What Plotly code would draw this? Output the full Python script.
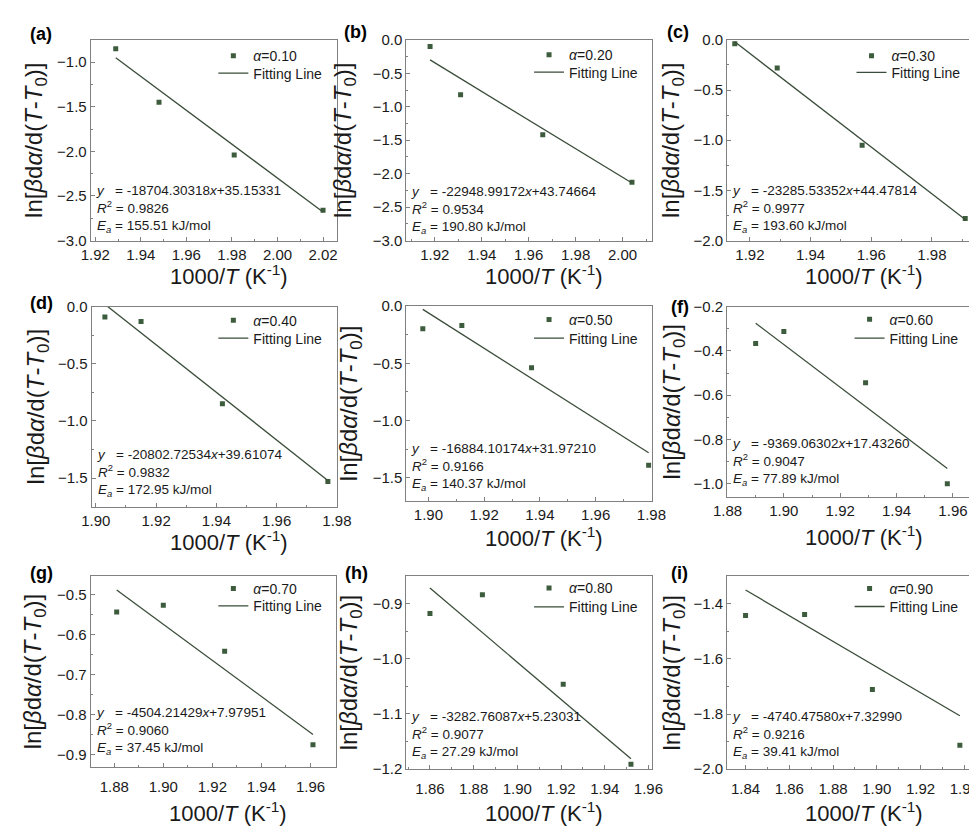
import plotly.graph_objects as go

W, H = 977, 826
FONT = "Liberation Sans, Arial, Helvetica, sans-serif"
MARKER_COLOR = "#3d5c3d"
LINE_COLOR = "#3a4d3a"
FRAME_COLOR = "#808080"
TEXT_COLOR = "#1a1a1a"

# ---------------- data ----------------
panel_tags = ["(a)", "(b)", "(c)", "(d)", "", "(f)", "(g)", "(h)", "(i)"]
alpha_levels = ["0.10", "0.20", "0.30", "0.40", "0.50", "0.60", "0.70", "0.80", "0.90"]

x_points = [
    [1.929, 1.948, 1.981, 2.020],
    [1.918, 1.931, 1.966, 2.004],
    [1.915, 1.929, 1.957, 1.991],
    [1.903, 1.915, 1.942, 1.977],
    [1.898, 1.912, 1.937, 1.979],
    [1.890, 1.900, 1.929, 1.958],
    [1.881, 1.900, 1.925, 1.961],
    [1.860, 1.884, 1.921, 1.952],
    [1.840, 1.867, 1.898, 1.938],
]
y_points = [
    [-0.85, -1.45, -2.04, -2.66],
    [-0.10, -0.82, -1.42, -2.13],
    [-0.04, -0.28, -1.05, -1.78],
    [-0.09, -0.13, -0.85, -1.53],
    [-0.20, -0.17, -0.54, -1.39],
    [-0.367, -0.312, -0.544, -1.00],
    [-0.543, -0.526, -0.641, -0.875],
    [-0.918, -0.884, -1.046, -1.191],
    [-1.442, -1.439, -1.711, -1.913],
]
# fitted line values at the first and last point
fit_y_ends = [
    [-0.95, -2.68],
    [-0.30, -2.14],
    [-0.02, -1.79],
    [0.02, -1.52],
    [-0.03, -1.28],
    [-0.275, -0.932],
    [-0.488, -0.849],
    [-0.872, -1.181],
    [-1.350, -1.806],
]
slopes = ["-18704.30318", "-22948.99172", "-23285.53352", "-20802.72534", "-16884.10174",
          "-9369.06302", "-4504.21429", "-3282.76087", "-4740.47580"]
intercepts = ["+35.15331", "+43.74664", "+44.47814", "+39.61074", "+31.97210",
              "+17.43260", "+7.97951", "+5.23031", "+7.32990"]
r_squared = ["0.9826", "0.9534", "0.9977", "0.9832", "0.9166", "0.9047", "0.9060", "0.9077", "0.9216"]
activation_energy = ["155.51", "190.80", "193.60", "172.95", "140.37", "77.89", "37.45", "27.29", "39.41"]

x_ranges = [
    [1.918, 2.026], [1.9079, 2.0127], [1.9125, 1.9929],
    [1.8986, 1.9801], [1.8921, 1.9801], [1.8799, 1.9664],
    [1.8704, 1.9704], [1.8492, 1.9615], [1.8316, 1.9431],
]
y_ranges = [
    [-3.0001, -0.75], [-3.0001, 0.0001], [-2.0001, 0.0001],
    [-1.75, 0.0001], [-1.70, 0.0001], [-1.06, -0.1999],
    [-0.931, -0.453], [-1.2001, -0.85], [-2.0001, -1.2999],
]
y_major = [0.5, 0.5, 0.5, 0.5, 0.5, 0.2, 0.1, 0.1, 0.2]
x_title = "1000/<i>T</i> (K<sup>-1</sup>)"
y_title = "ln[<i>β</i>d<i>α</i>/d(<i>T</i>-<i>T</i><sub>0</sub>)]"
fit_label = "Fitting Line"

# ---------------- layout geometry (pixels) ----------------
boxes = [  # left, right, top, bottom
    (70.7, 324.0, 23.3, 228.3), (395.7, 649.0, 23.3, 228.3), (726.0, 977.0, 23.3, 228.3),
    (71.7, 324.5, 295.7, 500.0), (395.7, 648.3, 295.0, 494.0), (726.0, 977.0, 295.7, 490.0),
    (70.7, 323.3, 570.7, 766.0), (395.7, 648.3, 570.7, 768.0), (726.0, 977.0, 571.0, 768.0),
]
legend_text_x = [237, 562, 894, 237, 562, 892, 237, 562, 892]
legend_rows = [(40, 57.7), (39, 56.7), (40, 57), (310, 328.3), (309.3, 328.3), (309, 328.3),
               (584, 601.7), (583.3, 602.7), (584, 602.3)]
tag_pos = [(20, 17), (343, 15), (675, 15), (20, 292), (0, 0), (677, 296), (20, 568), (344, 568), (677, 568)]
stats_shift = [4, 3, 4, 6, 6, 7, 8, 6, 6]
xtitle_center = [263, 263, 263, 534, 530, 529, 811, 811, 811]
xlabel_standoff = [0, 0, 0, 0, 0, 0, 6, 6, 6]
ytitle_standoff = [7, 14, 7, 6, 8, 6, 8, 8, 6]

fig = go.Figure()
layout = dict(
    width=W, height=H, autosize=False,
    margin=dict(l=0, r=0, t=0, b=0),
    paper_bgcolor="white", plot_bgcolor="white",
    font=dict(family=FONT, color=TEXT_COLOR),
    showlegend=True,
)
annotations = []


def legend_key(n):
    return "legend" if n == 1 else "legend" + str(n)


for k in range(9):
    sfx = "" if k == 0 else str(k + 1)
    L, R, T, B = boxes[k]
    xa, ya = "x" + sfx, "y" + sfx
    lg_pts = legend_key(2 * k + 1)
    lg_fit = legend_key(2 * k + 2)

    fig.add_trace(go.Scatter(
        x=x_points[k], y=y_points[k], mode="markers",
        marker=dict(symbol="square", size=5, color=MARKER_COLOR),
        name="<i>α</i>=" + alpha_levels[k],
        xaxis=xa, yaxis=ya, legend=lg_pts, cliponaxis=True,
    ))
    fig.add_trace(go.Scatter(
        x=[x_points[k][0], x_points[k][-1]], y=fit_y_ends[k], mode="lines",
        line=dict(color=LINE_COLOR, width=1.3),
        name=fit_label,
        xaxis=xa, yaxis=ya, legend=lg_fit,
    ))

    layout["xaxis" + sfx] = dict(
        domain=[L / W, min(R / W, 1.0)], range=x_ranges[k], anchor=ya,
        showline=True, mirror=True, linecolor=FRAME_COLOR, linewidth=1,
        ticks="inside", ticklen=4, tickcolor=FRAME_COLOR, tickwidth=1,
        dtick=0.02, tickformat=".2f",
        minor=dict(ticks="inside", ticklen=2, dtick=0.01, tickcolor=FRAME_COLOR, showgrid=False),
        showgrid=False, zeroline=False,
        tickfont=dict(size=15, color=TEXT_COLOR, family=FONT),
        ticklabelstandoff=xlabel_standoff[k],
    )
    layout["yaxis" + sfx] = dict(
        domain=[1 - B / H, 1 - T / H], range=y_ranges[k], anchor=xa,
        showline=True, mirror=True, linecolor=FRAME_COLOR, linewidth=1,
        ticks="inside", ticklen=4, tickcolor=FRAME_COLOR, tickwidth=1,
        dtick=y_major[k], tickformat=".1f",
        minor=dict(ticks="inside", ticklen=2, dtick=y_major[k] / 2, tickcolor=FRAME_COLOR, showgrid=False),
        showgrid=False, zeroline=False,
        tickfont=dict(size=15, color=TEXT_COLOR, family=FONT),
        title=dict(text=y_title, font=dict(size=24, color=TEXT_COLOR, family=FONT),
                   standoff=ytitle_standoff[k]),
    )
    for lg, row_y in ((lg_pts, legend_rows[k][0]), (lg_fit, legend_rows[k][1])):
        layout[lg] = dict(
            x=(legend_text_x[k] - 40) / W, xanchor="left",
            y=1 - row_y / H, yanchor="middle",
            bgcolor="rgba(0,0,0,0)", borderwidth=0,
            font=dict(size=14, color=TEXT_COLOR, family=FONT),
            itemwidth=30,
        )

    xd = ("x" if k == 0 else "x" + sfx) + " domain"
    yd = ("y" if k == 0 else "y" + sfx) + " domain"
    stats = ("<i>y</i>\u00a0\u00a0\u00a0= " + slopes[k] + "<i>x</i>" + intercepts[k] +
             "<br><i>R</i><sup>2</sup> = " + r_squared[k] +
             "<br><i>E</i><sub><i>a</i></sub> = " + activation_energy[k] + " kJ/mol")
    annotations.append(dict(
        text=stats, xref=xd, yref=yd, x=0, y=0, xanchor="left", yanchor="bottom",
        xshift=3, yshift=stats_shift[k], align="left", showarrow=False,
        font=dict(size=13.5, color=TEXT_COLOR, family=FONT),
    ))
    annotations.append(dict(
        text=x_title, xref=xd, yref=yd, x=0.5, y=0, xanchor="center", yanchor="middle",
        xshift=15, yshift=-(xtitle_center[k] - B), showarrow=False,
        font=dict(size=22, color=TEXT_COLOR, family=FONT),
    ))
    if panel_tags[k]:
        cx, cy = tag_pos[k]
        annotations.append(dict(
            text="<b>" + panel_tags[k] + "</b>", xref="paper", yref="paper",
            x=cx / W, y=1 - cy / H, xanchor="center", yanchor="middle",
            showarrow=False, font=dict(size=18, color="#000000", family=FONT),
        ))

layout["annotations"] = annotations
fig.update_layout(**layout)
fig.write_html("out.html")
